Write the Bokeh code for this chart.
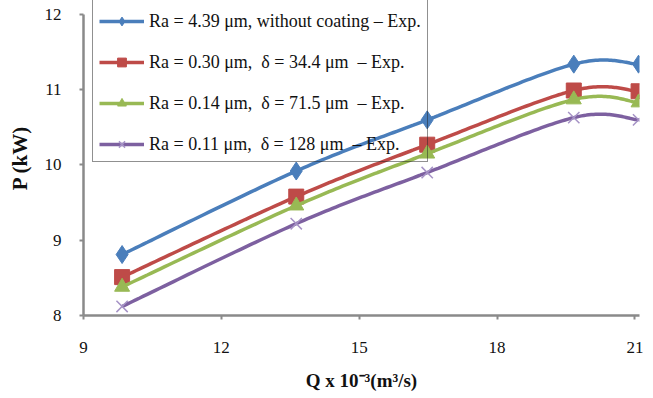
import numpy as np
from bokeh.plotting import figure
from bokeh.models import Legend, LegendItem, Range1d, FixedTicker
from bokeh.embed import file_html
from bokeh.resources import INLINE

# Flow rate Q (x 10^-3 m^3/s) and measured power P (kW)
q_flow = [9.84, 13.63, 16.48, 19.67, 21.08]
p_uncoated = [8.81, 9.92, 10.60, 11.34, 11.34]
p_coat_344 = [8.51, 9.58, 10.27, 10.99, 10.98]
p_coat_715 = [8.38, 9.46, 10.15, 10.87, 10.83]
p_coat_128 = [8.12, 9.22, 9.90, 10.63, 10.60]

labels = [
    "Ra = 4.39 \u03bcm, without coating \u2013 Exp.",
    "Ra = 0.30 \u03bcm,\u00a0 \u03b4 = 34.4 \u03bcm\u00a0 \u2013 Exp.",
    "Ra = 0.14 \u03bcm,\u00a0 \u03b4 = 71.5 \u03bcm\u00a0 \u2013 Exp.",
    "Ra = 0.11 \u03bcm,\u00a0 \u03b4 = 128 \u03bcm\u00a0 \u2013 Exp.",
]
x_ticks = [9, 12, 15, 18, 21]
y_ticks = [8, 9, 10, 11, 12]

colors = ["#4A7EBB", "#BE4B48", "#98B954", "#7D60A0"]


def smooth(xs, ys, n=40):
    """Piecewise cubic Bezier through the points (Catmull-Rom tangents)."""
    pts = np.column_stack([xs, ys]).astype(float)
    out = []
    m = len(pts)
    for i in range(m - 1):
        p0 = pts[i]
        p3 = pts[i + 1]
        prev = pts[i - 1] if i > 0 else pts[i]
        nxt = pts[i + 2] if i + 2 < m else pts[i + 1]
        c1 = p0 + (p3 - prev) / 6.0
        c2 = p3 - (nxt - p0) / 6.0
        t = np.linspace(0, 1, n)[:, None]
        seg = ((1 - t) ** 3) * p0 + 3 * ((1 - t) ** 2) * t * c1 + 3 * (1 - t) * t ** 2 * c2 + t ** 3 * p3
        out.append(seg if i == 0 else seg[1:])
    curve = np.vstack(out)
    return curve[:, 0], curve[:, 1]


# The frame runs to the top edge so the legend box is not clipped;
# the value axis itself stops at 12.
p = figure(width=653, height=398, output_backend="svg", toolbar_location=None,
           x_range=Range1d(9, 21.1), y_range=Range1d(8, 12.186),
           min_border_left=83, min_border_right=14, min_border_top=0, min_border_bottom=83)
p.outline_line_color = None
p.xgrid.visible = False
p.ygrid.visible = False

serif = "Liberation Serif"
for ax in (p.xaxis[0], p.yaxis[0]):
    ax.axis_line_color = "#8A8A8A"
    ax.axis_line_width = 2.5
    ax.major_tick_line_color = "#8A8A8A"
    ax.major_tick_line_width = 2
    ax.major_tick_in = 0
    ax.major_tick_out = 4
    ax.minor_tick_line_color = None
    ax.major_label_text_font = serif
    ax.major_label_text_font_size = "17px"
    ax.major_label_text_color = "#111111"
    ax.axis_label_text_font = serif
    ax.axis_label_text_font_style = "bold"
    ax.axis_label_text_color = "#111111"

p.yaxis.bounds = (8, 12)
p.xaxis.ticker = FixedTicker(ticks=x_ticks)
p.yaxis.ticker = FixedTicker(ticks=y_ticks)
p.xaxis.major_label_standoff = 22
p.yaxis.major_label_standoff = 18
p.xaxis.axis_label = "Q x 10\u207b\u00b3(m\u00b3/s)"
p.yaxis.axis_label = "P (kW)"
p.xaxis.axis_label_text_font_size = "19px"
p.yaxis.axis_label_text_font_size = "21px"
p.xaxis.axis_label_standoff = 14
p.yaxis.axis_label_standoff = 10

series = [p_uncoated, p_coat_344, p_coat_715, p_coat_128]
items = []
for k, (vals, col, lab) in enumerate(zip(series, colors, labels)):
    sx, sy = smooth(q_flow, vals)
    lr = p.line(sx, sy, line_color=col, line_width=3.5)
    if k == 0:
        mr = p.scatter(q_flow, vals, marker="diamond", size=18,
                       fill_color=col, line_color=col)
    elif k == 1:
        mr = p.scatter(q_flow, vals, marker="square", size=15,
                       fill_color=col, line_color=col)
    elif k == 2:
        mr = p.scatter(q_flow, vals, marker="triangle", size=15,
                       fill_color=col, line_color=col)
    else:
        mr = p.scatter(q_flow, vals, marker="x", size=16,
                       line_color="#A693C6", line_width=1.5)
    items.append(LegendItem(label=lab, renderers=[lr, mr]))

# Transparent box so the curves stay visible where they run through it
legend = Legend(items=items, location=(9, 153), orientation="vertical",
                padding=6, spacing=19, label_height=22, glyph_height=22,
                glyph_width=45, label_standoff=5,
                title="\u00a0", title_text_font_size="5px", title_standoff=0,
                label_text_font=serif, label_text_font_size="18px",
                label_text_color="#111111",
                border_line_color="#222222", border_line_width=1,
                background_fill_alpha=0.0)
p.add_layout(legend, "center")

open("out.html", "w").write(file_html(p, INLINE))
